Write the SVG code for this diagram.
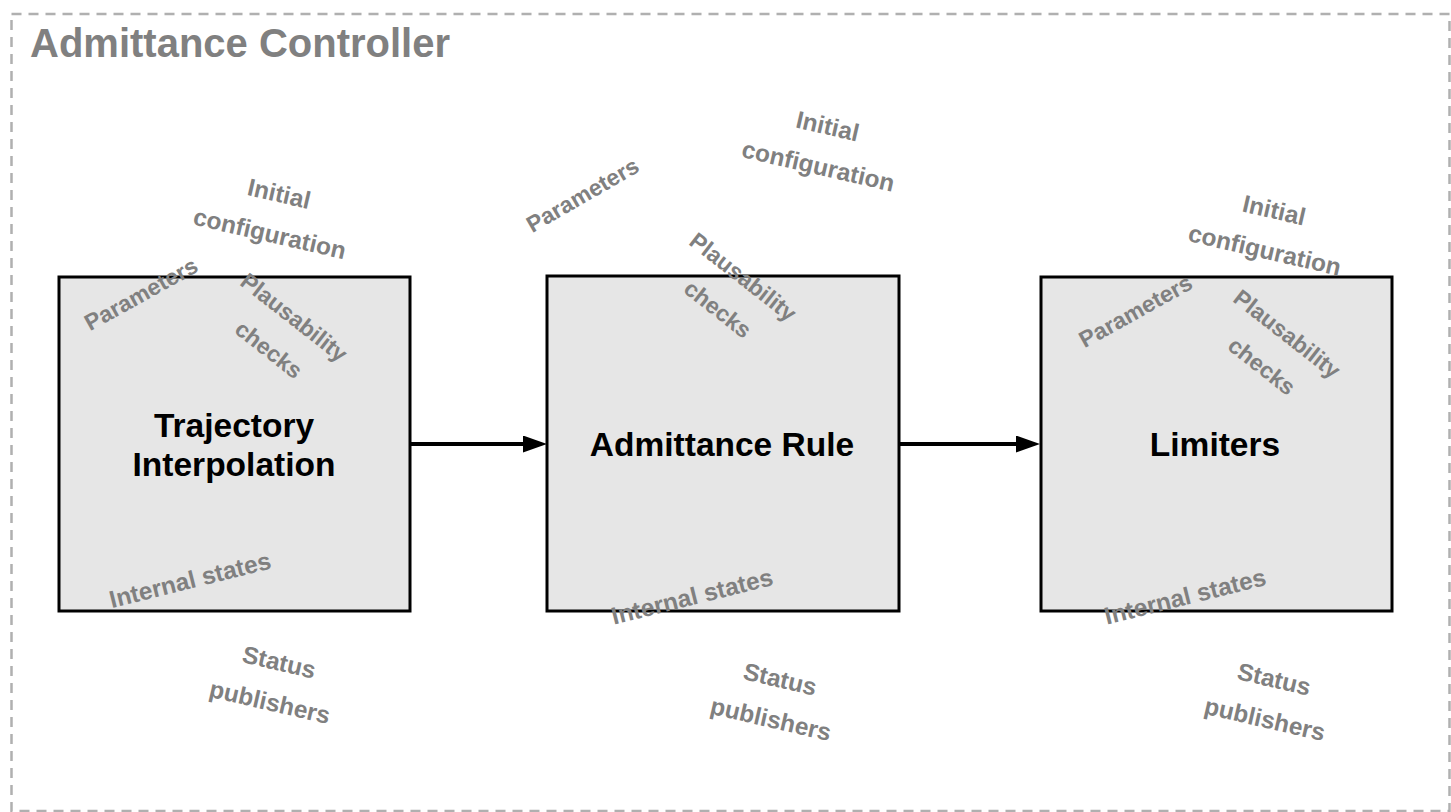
<svg xmlns="http://www.w3.org/2000/svg" width="1451" height="812" viewBox="0 0 1451 812">
  <style>
    .frame { fill: #ffffff; stroke: #b0b0b0; stroke-width: 2.5; stroke-dasharray: 10 7; }
    .title { font-family: "Liberation Sans", Arial, sans-serif; font-weight: bold; font-size: 40px; fill: #808080; }
    .block { fill: #e6e6e6; stroke: #000000; stroke-width: 3; }
    .name { font-family: "Liberation Sans", Arial, sans-serif; font-weight: bold; font-size: 33.5px; fill: #000000; text-anchor: middle; }
    .tag { font-family: "Liberation Sans", Arial, sans-serif; font-weight: bold; font-size: 24.4px; fill: #808080; text-anchor: middle; }
    .tag.sm { font-size: 23px; }
    .link { stroke: #000000; stroke-width: 4; fill: none; }
  </style>
  <defs>
    <marker id="arrow" viewBox="0 0 24 17" refX="4" refY="8.5" markerWidth="24" markerHeight="17" markerUnits="userSpaceOnUse" orient="auto">
      <path d="M0,0 L24,8.5 L0,17 z" fill="#000000"/>
    </marker>
  </defs>

  <rect class="frame" x="11.5" y="14" width="1438" height="797"/>
  <text class="title" x="30" y="57">Admittance Controller</text>

  <g id="trajectory-interpolation">
    <rect class="block" x="59" y="277" width="351" height="334"/>
    <text class="name" x="234" y="437">Trajectory</text>
    <text class="name" x="234" y="476">Interpolation</text>
    <g transform="translate(274.5,213.5) rotate(13)">
      <text class="tag" y="-12">Initial</text>
      <text class="tag" y="29">configuration</text>
    </g>
    <text class="tag sm" transform="translate(141,294) rotate(-29)" y="8">Parameters</text>
    <g transform="translate(281.5,333.5) rotate(38)">
      <text class="tag sm" y="-12.5">Plausability</text>
      <text class="tag sm" y="28.5">checks</text>
    </g>
    <text class="tag" transform="translate(190,580) rotate(-14)" y="8.5">Internal states</text>
    <g transform="translate(274.5,682) rotate(13)">
      <text class="tag" y="-12">Status</text>
      <text class="tag" y="29">publishers</text>
    </g>
  </g>

  <g id="admittance-rule">
    <rect class="block" x="547" y="276" width="352" height="335"/>
    <text class="name" x="722" y="456">Admittance Rule</text>
    <g transform="translate(823,146) rotate(13)">
      <text class="tag" y="-12">Initial</text>
      <text class="tag" y="29">configuration</text>
    </g>
    <text class="tag sm" transform="translate(582.5,195) rotate(-30)" y="8">Parameters</text>
    <g transform="translate(730.5,293) rotate(38)">
      <text class="tag sm" y="-12.5">Plausability</text>
      <text class="tag sm" y="28.5">checks</text>
    </g>
    <text class="tag" transform="translate(692,596.5) rotate(-14)" y="8.5">Internal states</text>
    <g transform="translate(775.5,699) rotate(13)">
      <text class="tag" y="-12">Status</text>
      <text class="tag" y="29">publishers</text>
    </g>
  </g>

  <g id="limiters">
    <rect class="block" x="1041" y="277" width="351" height="334"/>
    <text class="name" x="1215" y="456">Limiters</text>
    <g transform="translate(1269.5,230) rotate(13)">
      <text class="tag" y="-12">Initial</text>
      <text class="tag" y="29">configuration</text>
    </g>
    <text class="tag sm" transform="translate(1135.5,311) rotate(-29)" y="8">Parameters</text>
    <g transform="translate(1274.5,350) rotate(38)">
      <text class="tag sm" y="-12.5">Plausability</text>
      <text class="tag sm" y="28.5">checks</text>
    </g>
    <text class="tag" transform="translate(1185,596.5) rotate(-14)" y="8.5">Internal states</text>
    <g transform="translate(1269.5,699) rotate(13)">
      <text class="tag" y="-12">Status</text>
      <text class="tag" y="29">publishers</text>
    </g>
  </g>

  <g id="connectors">
    <line class="link" x1="411" y1="444" x2="527" y2="444" marker-end="url(#arrow)"/>
    <line class="link" x1="900" y1="444" x2="1020" y2="444" marker-end="url(#arrow)"/>
  </g>
</svg>
